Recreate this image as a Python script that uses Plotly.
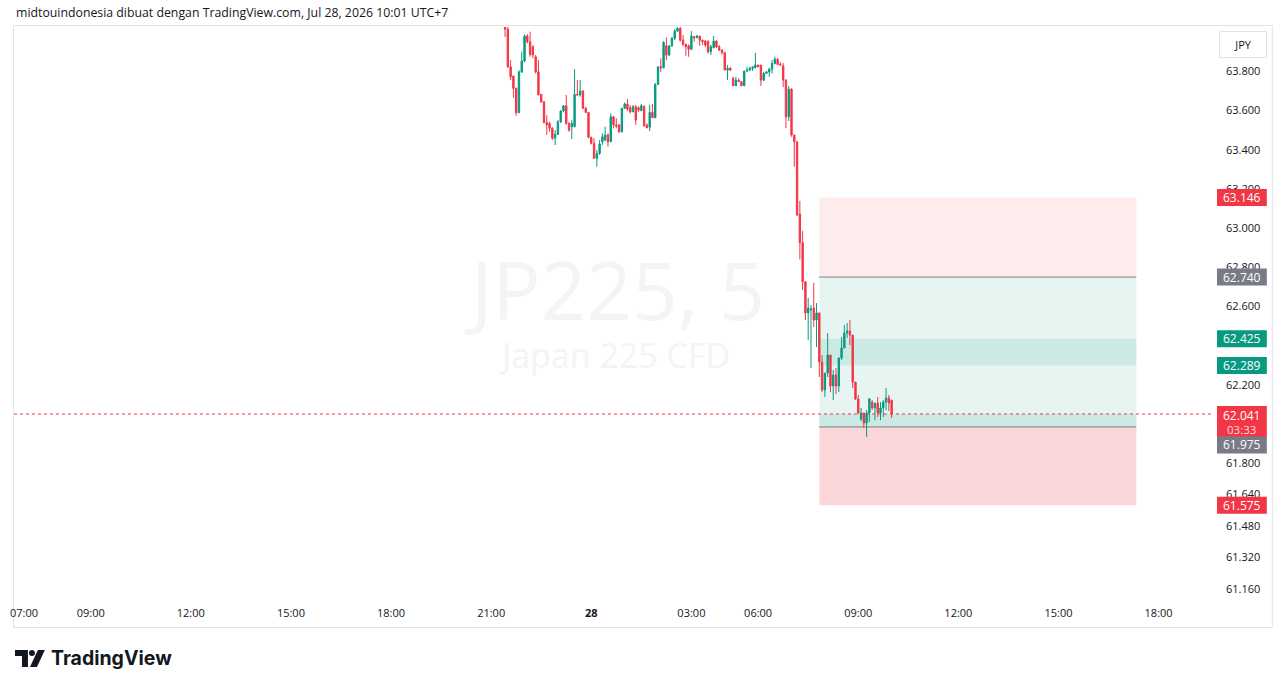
import plotly.graph_objects as go
import pandas as pd

# ---------------- data ----------------
header_text = "midtouindonesia dibuat dengan TradingView.com, Jul 28, 2026 10:01 UTC+7"
symbol_text = "JP225, 5"
description_text = "Japan 225 CFD"
currency_text = "JPY"
countdown_text = "03:33"

opens = [64051, 64005, 63813, 63766, 63704, 63578, 63787, 63842, 63970, 63941,
         63915, 63864, 63787, 63672, 63634, 63529, 63524, 63499, 63448, 63468,
         63532, 63587, 63614, 63524, 63507, 63507, 63672, 63669, 63689, 63601,
         63580, 63453, 63422, 63346, 63371, 63430, 63439, 63465, 63430, 63558,
         63516, 63516, 63481, 63601, 63623, 63604, 63583, 63609, 63604, 63589,
         63609, 63516, 63505, 63580, 63553, 63723, 63813, 63808, 63920, 63873,
         63920, 63958, 63995, 64009, 63949, 63927, 63920, 63902, 63966, 63961,
         63970, 63949, 63944, 63941, 63890, 63910, 63944, 63915, 63898, 63886,
         63796, 63805, 63754, 63716, 63745, 63737, 63716, 63791, 63796, 63805,
         63808, 63822, 63822, 63745, 63779, 63787, 63801, 63830, 63851, 63825,
         63817, 63745, 63558, 63699, 63465, 63430, 63061, 62915, 62716, 62557,
         62572, 62582, 62521, 62557, 62306, 62164, 62250, 62342, 62184, 62240,
         62184, 62327, 62378, 62454, 62465, 62444, 62204, 62118, 62016, 62046,
         61995, 62046, 62102, 62072, 62097, 62046, 62072, 62102, 62123, 62112]
highs = [64077, 64016, 63847, 63766, 63704, 63796, 63890, 63978, 63980, 63992,
         63924, 63873, 63847, 63674, 63638, 63566, 63532, 63505, 63490, 63541,
         63592, 63618, 63669, 63532, 63541, 63801, 63745, 63745, 63694, 63609,
         63583, 63456, 63448, 63388, 63439, 63473, 63507, 63473, 63575, 63561,
         63550, 63521, 63604, 63631, 63648, 63618, 63618, 63618, 63612, 63623,
         63618, 63524, 63618, 63623, 63730, 63813, 63856, 63944, 63963, 63924,
         63966, 64005, 64017, 64017, 63975, 63932, 63927, 63995, 63971, 63975,
         63970, 63949, 63949, 63949, 63924, 63970, 63949, 63924, 63903, 63888,
         63822, 63812, 63762, 63762, 63754, 63740, 63791, 63813, 63813, 63813,
         63884, 63823, 63822, 63787, 63791, 63808, 63847, 63864, 63857, 63837,
         63832, 63750, 63715, 63703, 63465, 63430, 63129, 62976, 62716, 62633,
         62597, 62710, 62607, 62557, 62342, 62250, 62454, 62342, 62266, 62276,
         62327, 62434, 62495, 62505, 62521, 62444, 62204, 62138, 62072, 62046,
         62061, 62123, 62112, 62097, 62128, 62102, 62112, 62174, 62138, 62112]
lows = [63965, 63808, 63745, 63655, 63563, 63577, 63781, 63837, 63932, 63864,
        63856, 63779, 63669, 63628, 63524, 63465, 63481, 63439, 63414, 63465,
        63526, 63580, 63516, 63481, 63444, 63505, 63663, 63660, 63597, 63577,
        63448, 63417, 63346, 63303, 63363, 63414, 63434, 63405, 63429, 63499,
        63499, 63477, 63478, 63597, 63587, 63575, 63582, 63516, 63582, 63587,
        63507, 63499, 63485, 63551, 63551, 63720, 63787, 63805, 63847, 63868,
        63915, 63949, 63990, 63941, 63920, 63869, 63864, 63898, 63941, 63959,
        63920, 63924, 63913, 63881, 63873, 63908, 63908, 63893, 63873, 63796,
        63745, 63791, 63715, 63715, 63735, 63715, 63715, 63787, 63791, 63791,
        63805, 63812, 63715, 63740, 63776, 63762, 63779, 63825, 63822, 63817,
        63709, 63500, 63536, 63456, 63303, 63056, 62830, 62674, 62521, 62419,
        62276, 62485, 62383, 62230, 62153, 62128, 62230, 62153, 62112, 62143,
        62153, 62317, 62378, 62429, 62393, 62174, 62112, 62041, 62005, 61970,
        61924, 62000, 62061, 62010, 62026, 62010, 62026, 62061, 62056, 62021]
closes = [64005, 63813, 63762, 63703, 63578, 63787, 63842, 63970, 63941, 63876,
          63873, 63787, 63669, 63634, 63529, 63516, 63499, 63448, 63468, 63532,
          63587, 63614, 63524, 63490, 63524, 63672, 63669, 63689, 63601, 63580,
          63453, 63422, 63346, 63371, 63419, 63456, 63465, 63430, 63558, 63516,
          63510, 63481, 63601, 63623, 63597, 63583, 63609, 63541, 63592, 63614,
          63512, 63502, 63580, 63553, 63723, 63813, 63808, 63937, 63873, 63920,
          63958, 63995, 64009, 63949, 63927, 63915, 63902, 63970, 63961, 63970,
          63949, 63941, 63924, 63890, 63915, 63944, 63915, 63898, 63886, 63796,
          63805, 63796, 63716, 63745, 63737, 63716, 63791, 63796, 63805, 63813,
          63822, 63813, 63745, 63779, 63787, 63801, 63830, 63851, 63825, 63822,
          63745, 63558, 63699, 63465, 63430, 63056, 62915, 62716, 62557, 62582,
          62577, 62521, 62557, 62306, 62164, 62250, 62342, 62184, 62240, 62184,
          62327, 62378, 62454, 62465, 62444, 62204, 62118, 62046, 62046, 61995,
          62046, 62118, 62072, 62097, 62046, 62072, 62102, 62123, 62097, 62041]

# 5-minute bars; the market pauses 05:00-06:00 (UTC+7)
bar_times = [t for t in pd.date_range("2026-07-27 21:25", "2026-07-28 10:00", freq="5min")
             if t.hour != 5]

tick_times = ["2026-07-27 07:00", "2026-07-27 09:00", "2026-07-27 12:00", "2026-07-27 15:00",
              "2026-07-27 18:00", "2026-07-27 21:00", "2026-07-28 00:00", "2026-07-28 03:00",
              "2026-07-28 06:00", "2026-07-28 09:00", "2026-07-28 12:00", "2026-07-28 15:00",
              "2026-07-28 18:00"]
tick_labels = ["07:00", "09:00", "12:00", "15:00", "18:00", "21:00", "<b>28</b>", "03:00",
               "06:00", "09:00", "12:00", "15:00", "18:00"]

price_ticks = [63800, 63600, 63400, 63200, 63000, 62800, 62600, 62200,
               61800, 61640, 61480, 61320, 61160]

zone_start = "2026-07-28 07:50"
zone_end = "2026-07-28 17:20"
zone_bottoms = [62740, 61975, 62289, 61975, 61575]
zone_tops = [63146, 62740, 62425, 62041, 61975]
zone_fills = ["rgba(242,54,69,0.10)", "rgba(8,153,129,0.10)", "rgba(8,153,129,0.12)",
              "rgba(8,153,129,0.12)", "rgba(242,54,69,0.20)"]
level_lines = [62740, 61975]
last_price = 62041

label_values = [63146, 62740, 62425, 62289, 62041, 61975, 61575]
label_colors = ["#f23645", "#787b86", "#089981", "#089981", "#f23645", "#787b86", "#f23645"]
label_push = [0, 0, 0, 0, 1, 18, 0]   # px pushed down: TradingView separates colliding labels

UP = "#089981"
DOWN = "#f23645"
TEXT = "#131722"
FONT = "Open Sans, Roboto, sans-serif"

# ---------------- helpers ----------------
ORIGIN = pd.Timestamp("2026-07-27 07:00")
BREAK_END = pd.Timestamp("2026-07-28 06:00")
BREAK_BARS = 12


def bar_index(t):
    t = pd.Timestamp(t)
    n = (t - ORIGIN) / pd.Timedelta("5min")
    if t >= BREAK_END:
        n -= BREAK_BARS
    return n


def fmt(v):
    return f"{v:,}".replace(",", ".")


W, H = 1281, 688
L, R, T, B = 10, 1212, 27, 600
Y_RANGE = [61092, 64016]


def px(x):
    return (x - L) / (R - L)


def py(y):
    return (B - y) / (B - T)


def val_to_py(v):
    # pixel row of a price value (for the axis-label backgrounds)
    return T + (Y_RANGE[1] - v) / (Y_RANGE[1] - Y_RANGE[0]) * (B - T)


x_idx = [bar_index(t) for t in bar_times]

fig = go.Figure()
fig.add_trace(go.Candlestick(
    x=x_idx, open=opens, high=highs, low=lows, close=closes,
    increasing=dict(line=dict(color=UP, width=1), fillcolor=UP),
    decreasing=dict(line=dict(color=DOWN, width=1), fillcolor=DOWN),
    whiskerwidth=0, showlegend=False, hoverinfo="skip",
))

shapes = []
x0z, x1z = bar_index(zone_start), bar_index(zone_end)
for lo, hi, fc in zip(zone_bottoms, zone_tops, zone_fills):
    shapes.append(dict(type="rect", xref="x", yref="y", x0=x0z, x1=x1z, y0=lo, y1=hi,
                       fillcolor=fc, line=dict(width=0), layer="below"))
for lv in level_lines:
    shapes.append(dict(type="line", xref="x", yref="y", x0=x0z, x1=x1z, y0=lv, y1=lv,
                       line=dict(color="#787b86", width=1), layer="below"))
# last price dotted line
shapes.append(dict(type="line", xref="paper", yref="y", x0=0, x1=1, y0=last_price, y1=last_price,
                   line=dict(color=DOWN, width=1, dash="dot")))
# frame
shapes.append(dict(type="rect", xref="paper", yref="paper", x0=px(9.5), x1=px(1272.5),
                   y0=py(627.5), y1=py(25.5), line=dict(color="#e0e3eb", width=1),
                   fillcolor="rgba(0,0,0,0)", layer="below"))


def path(points):
    s = "M " + " L ".join(f"{px(a):.5f},{py(b):.5f}" for a, b in points) + " Z"
    return s


# TradingView logo glyph
shapes.append(dict(type="path", xref="paper", yref="paper",
                   path=path([(11, 650), (24, 650), (24, 667), (18, 667), (18, 656), (11, 656)]),
                   fillcolor=TEXT, line=dict(width=0)))
shapes.append(dict(type="circle", xref="paper", yref="paper", x0=px(25), x1=px(31),
                   y0=py(656), y1=py(650), fillcolor=TEXT, line=dict(width=0)))
shapes.append(dict(type="path", xref="paper", yref="paper",
                   path=path([(26, 667), (33, 667), (41, 650), (34, 650)]),
                   fillcolor=TEXT, line=dict(width=0)))

annotations = []
# watermark
annotations.append(dict(text=symbol_text, xref="paper", yref="paper", x=px(613), y=py(288),
                        showarrow=False, font=dict(size=80, color="#f3f4f6", family=FONT)))
annotations.append(dict(text=description_text, xref="paper", yref="paper", x=px(613), y=py(355),
                        showarrow=False, font=dict(size=34, color="#f3f4f6", family=FONT)))
# header
annotations.append(dict(text=header_text, xref="paper", yref="paper", x=px(10), y=py(12),
                        xanchor="left", yanchor="middle", showarrow=False,
                        font=dict(size=12.3, color=TEXT, family=FONT)))
# logo text
annotations.append(dict(text="<b>TradingView</b>", xref="paper", yref="paper", x=px(45), y=py(658),
                        xanchor="left", yanchor="middle", showarrow=False,
                        font=dict(size=19.5, color=TEXT, family="Inter, Roboto, sans-serif")))
# currency box
annotations.append(dict(text=currency_text, xref="paper", yref="paper", x=px(1243), y=py(44.5),
                        xanchor="center", yanchor="middle", showarrow=False,
                        width=44, height=23, bordercolor="#e0e3eb", borderwidth=1, bgcolor="white",
                        font=dict(size=11, color=TEXT, family=FONT)))
# price labels on the axis: coloured background boxes + white text
for v, c, s in zip(label_values, label_colors, label_push):
    cy = val_to_py(v) + s
    top, bot = cy - 8.5, cy + 8.5
    if v == last_price:
        top, bot = cy - 9, cy + 22
    shapes.append(dict(type="rect", xref="paper", yref="paper", x0=px(1217), x1=px(1267),
                       y0=py(bot), y1=py(top), fillcolor=c, line=dict(width=0)))
    annotations.append(dict(text=fmt(v), xref="paper", yref="paper", x=px(1242), y=py(cy),
                            xanchor="center", yanchor="middle", showarrow=False,
                            font=dict(size=12, color="white", family=FONT)))
    if v == last_price:
        annotations.append(dict(text=countdown_text, xref="paper", yref="paper", x=px(1242),
                                y=py(cy + 14), xanchor="center", yanchor="middle", showarrow=False,
                                font=dict(size=11.5, color="rgba(255,255,255,0.8)", family=FONT)))

fig.update_layout(
    width=W, height=H,
    margin=dict(l=L, r=W - R, t=T, b=H - B),
    paper_bgcolor="white", plot_bgcolor="white",
    font=dict(family=FONT, color=TEXT, size=11),
    shapes=shapes, annotations=annotations,
    showlegend=False,
    xaxis=dict(range=[-3.58, 427.2], tickvals=[bar_index(t) for t in tick_times],
               ticktext=tick_labels, showgrid=False, zeroline=False, showline=False,
               ticks="", ticklabelstandoff=5, rangeslider=dict(visible=False),
               tickfont=dict(size=11, color=TEXT), fixedrange=True),
    yaxis=dict(range=Y_RANGE, side="right", tickvals=price_ticks,
               ticktext=[fmt(v) for v in price_ticks], showgrid=False, zeroline=False,
               showline=False, ticks="", ticklabelstandoff=13, ticklabelshift=2,
               tickfont=dict(size=11, color=TEXT), fixedrange=True),
)

fig.write_html("out.html")
